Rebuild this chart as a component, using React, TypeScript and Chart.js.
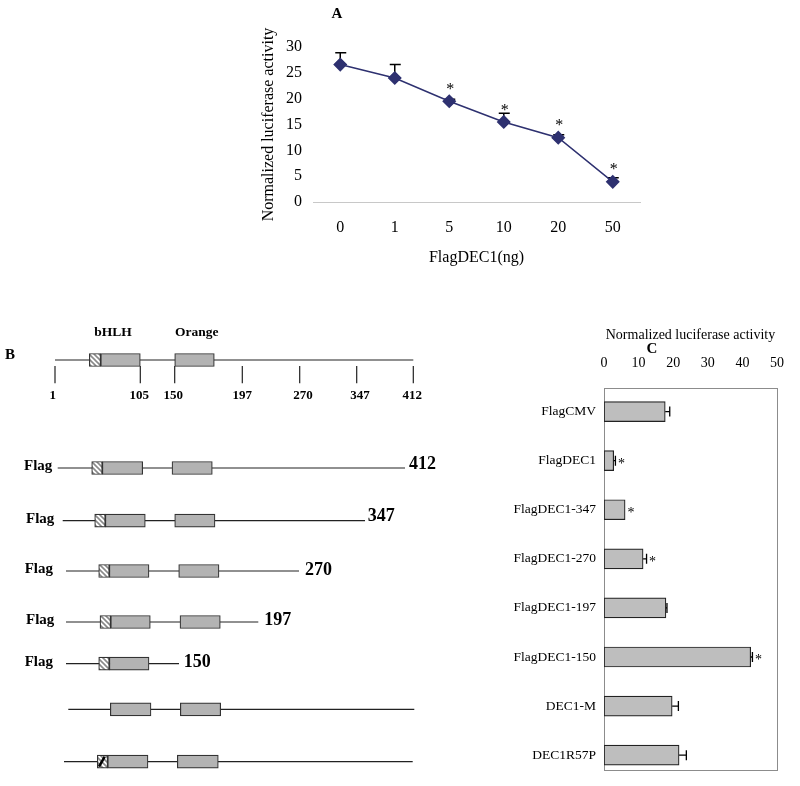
import React, { useEffect, useRef } from "react";
import { Chart, registerables } from "chart.js";
Chart.register(...registerables);

const SERIF = '"Liberation Serif", "Times New Roman", Times, serif';
const NAVY = "#2E3170";

// ---------- Panel A data ----------
const doseLabels = ["0", "1", "5", "10", "20", "50"];
const activityA = [26.6, 24.0, 19.5, 15.5, 12.45, 3.9];
const errorA = [2.3, 2.6, 0.4, 1.7, 0.55, 0.8];
const starLevelA: (number | null)[] = [null, null, 22.4, 18.4, 15.5, 7.0];

// ---------- Panel C data ----------
const constructsC = [
  "FlagCMV",
  "FlagDEC1",
  "FlagDEC1-347",
  "FlagDEC1-270",
  "FlagDEC1-197",
  "FlagDEC1-150",
  "DEC1-M",
  "DEC1R57P",
];
const activityC = [17.7, 2.8, 6.1, 11.3, 17.9, 42.4, 19.7, 21.7];
const errorC = [1.3, 0.5, 0, 1.0, 0.3, 0.5, 1.8, 2.1];
const starC = [false, true, true, true, false, true, false, false];

// ---------- Panel B schematic (schematic units) ----------
const rowLevel = [360, 468, 520.7, 571, 622, 663.7, 709.3, 761.7];
const lineStart = [55, 57.7, 62.7, 66, 66, 66, 68.3, 64];
const lineEnd = [413.3, 405, 365, 299, 258.3, 179, 414.3, 412.7];
const hatchStart: (number | null)[] = [89.3, 91.7, 94.7, 98.7, 100, 98.7, null, 97.3];
const bhlhStart = [100.7, 102.3, 105.3, 109.3, 110.7, 109.3, 110.3, 107.7];
const bhlhEnd = [140.3, 142.7, 145.3, 149, 150.3, 149, 151, 148];
const orangeStart: (number | null)[] = [174.7, 172, 174.7, 178.7, 180, null, 180.3, 177.3];
const orangeEnd: (number | null)[] = [214.3, 212.3, 215, 219, 220.3, null, 220.7, 218.3];
const mutatedRow = 7;
const flagX: (number | null)[] = [null, 24, 26, 24.7, 26, 24.7, null, null];
const endLabels = ["", "412", "347", "270", "197", "150", "", ""];
const endLabelX: (number | null)[] = [null, 409, 367.7, 305, 264.3, 183.7, null, null];
const endLabelY: (number | null)[] = [null, 464, 516.7, 570.3, 620.3, 662.2, null, null];
const rulerLabels = ["1", "105", "150", "197", "270", "347", "412"];
const rulerTickPos = [55, 140.3, 174.7, 242.3, 299.7, 356.7, 413.3];
const rulerLabelPos = [52.7, 139.3, 173.3, 242.3, 303, 360, 412.3];
const rulerTickTop = 366;
const rulerTickBottom = 383.3;
const rulerLabelLevel = 396;
const domainNames = ["bHLH", "Orange"];
const domainNameX = [113, 196.7];
const domainNameLevel = 333;

function PanelA() {
  const ref = useRef<HTMLCanvasElement | null>(null);
  useEffect(() => {
    const canvas = ref.current!;
    const overlay = {
      id: "panelAOverlay",
      beforeDatasetsDraw(chart: any) {
        const { ctx, scales } = chart;
        const x = scales.x;
        const y = scales.y;
        ctx.save();
        ctx.strokeStyle = "#000";
        ctx.lineWidth = 1.5;
        activityA.forEach((v, i) => {
          const px = x.getPixelForValue(i);
          const y0 = y.getPixelForValue(v);
          const y1 = y.getPixelForValue(v + errorA[i]);
          ctx.beginPath();
          ctx.moveTo(px, y0);
          ctx.lineTo(px, y1);
          ctx.moveTo(px - 5, y1);
          ctx.lineTo(px + 6, y1);
          ctx.stroke();
        });
        ctx.restore();
      },
      afterDatasetsDraw(chart: any) {
        const { ctx, scales } = chart;
        const x = scales.x;
        const y = scales.y;
        ctx.save();
        ctx.fillStyle = "#000";
        ctx.textAlign = "center";
        ctx.textBaseline = "middle";
        ctx.font = `16px ${SERIF}`;
        starLevelA.forEach((s, i) => {
          if (s == null) return;
          ctx.fillText("*", x.getPixelForValue(i) + 1, y.getPixelForValue(s) + 4);
        });
        ctx.font = `bold 15px ${SERIF}`;
        ctx.fillText("A", 337, 14);
        ctx.restore();
      },
    };
    const chart = new Chart(canvas, {
      type: "line",
      data: {
        labels: doseLabels,
        datasets: [
          {
            data: activityA,
            borderColor: NAVY,
            backgroundColor: NAVY,
            borderWidth: 1.5,
            pointStyle: "rectRot",
            pointRadius: 6,
            pointBackgroundColor: NAVY,
            pointBorderColor: NAVY,
            tension: 0,
          },
        ],
      },
      options: {
        responsive: false,
        animation: false,
        events: [],
        layout: { padding: { left: 255, right: 60, top: 47, bottom: 8 } },
        plugins: { legend: { display: false }, tooltip: { enabled: false } },
        scales: {
          x: {
            type: "category",
            offset: true,
            grid: { display: false, drawTicks: false },
            border: { display: true, color: "#c8c8c8", width: 1 },
            ticks: { color: "#000", font: { family: SERIF, size: 16 }, padding: 16 },
            title: {
              display: true,
              text: "FlagDEC1(ng)",
              color: "#000",
              font: { family: SERIF, size: 16 },
              padding: { top: 0, bottom: 5 },
            },
            afterFit: (s: any) => {
              s.height = 70;
            },
          },
          y: {
            type: "linear",
            min: 0,
            max: 30,
            grid: { display: false, drawTicks: false },
            border: { display: false },
            ticks: { stepSize: 5, color: "#000", font: { family: SERIF, size: 16 }, padding: 11 },
            title: {
              display: true,
              text: "Normalized luciferase activity",
              color: "#000",
              font: { family: SERIF, size: 16 },
              padding: { top: 4, bottom: 0 },
            },
            afterFit: (s: any) => {
              s.width = 58;
            },
          },
        },
      } as any,
      plugins: [overlay],
    });
    return () => chart.destroy();
  }, []);
  return (
    <canvas
      ref={ref}
      width={700}
      height={280}
      style={{ position: "absolute", left: 0, top: 0, width: 700, height: 280 }}
    />
  );
}

function makeHatch(): CanvasPattern | string {
  const c = document.createElement("canvas");
  c.width = 5;
  c.height = 5;
  const g = c.getContext("2d");
  if (!g) return "#ddd";
  g.fillStyle = "#ffffff";
  g.fillRect(0, 0, 5, 5);
  g.strokeStyle = "#8a8a8a";
  g.lineWidth = 1.6;
  g.beginPath();
  g.moveTo(-1, -1);
  g.lineTo(6, 6);
  g.moveTo(-1, 4);
  g.lineTo(1, 6);
  g.moveTo(4, -1);
  g.lineTo(6, 1);
  g.stroke();
  return g.createPattern(c, "repeat") || "#ddd";
}

function PanelB() {
  const ref = useRef<HTMLCanvasElement | null>(null);
  useEffect(() => {
    const canvas = ref.current!;
    const hatch = makeHatch();
    const datasets: any[] = [];
    rowLevel.forEach((lv, i) => {
      datasets.push({
        type: "line",
        data: [
          { x: lineStart[i], y: lv },
          { x: lineEnd[i], y: lv },
        ],
        borderColor: "#222",
        borderWidth: 1.2,
        pointRadius: 0,
        order: 3,
      });
    });
    rulerTickPos.forEach((p) => {
      datasets.push({
        type: "line",
        data: [
          { x: p, y: rulerTickTop },
          { x: p, y: rulerTickBottom },
        ],
        borderColor: "#222",
        borderWidth: 1.2,
        pointRadius: 0,
        order: 3,
      });
    });
    const barCommon = {
      type: "bar",
      indexAxis: "y",
      grouped: false,
      barThickness: 13,
      borderColor: "#333",
      borderWidth: 1.2,
      borderSkipped: false,
      order: 1,
    };
    datasets.push({
      ...barCommon,
      backgroundColor: hatch,
      data: rowLevel
        .map((lv, i) => (hatchStart[i] == null ? null : { x: [hatchStart[i], bhlhStart[i]], y: lv }))
        .filter((d) => d != null),
    });
    datasets.push({
      ...barCommon,
      backgroundColor: "#B3B3B3",
      data: rowLevel.map((lv, i) => ({ x: [bhlhStart[i], bhlhEnd[i]], y: lv })),
    });
    datasets.push({
      ...barCommon,
      backgroundColor: "#B3B3B3",
      data: rowLevel
        .map((lv, i) => (orangeStart[i] == null ? null : { x: [orangeStart[i], orangeEnd[i]], y: lv }))
        .filter((d) => d != null),
    });
    // point mutation mark (R57P)
    const hs = hatchStart[mutatedRow] as number;
    datasets.push({
      type: "line",
      data: [
        { x: hs + 1.7, y: rowLevel[mutatedRow] + 5 },
        { x: bhlhStart[mutatedRow] - 3, y: rowLevel[mutatedRow] - 5 },
      ],
      borderColor: "#000",
      borderWidth: 2.6,
      pointRadius: 0,
      order: 0,
    });

    const overlay = {
      id: "panelBText",
      afterDatasetsDraw(chart: any) {
        const { ctx, scales } = chart;
        const x = scales.x;
        const y = scales.y;
        ctx.save();
        ctx.fillStyle = "#000";
        ctx.textBaseline = "middle";
        ctx.textAlign = "center";
        ctx.font = `bold 15px ${SERIF}`;
        ctx.fillText("B", x.getPixelForValue(10), y.getPixelForValue(355));
        ctx.font = `bold 13.5px ${SERIF}`;
        domainNames.forEach((n, i) => {
          ctx.fillText(n, x.getPixelForValue(domainNameX[i]), y.getPixelForValue(domainNameLevel));
        });
        ctx.font = `bold 13px ${SERIF}`;
        rulerLabels.forEach((t, i) => {
          ctx.fillText(t, x.getPixelForValue(rulerLabelPos[i]), y.getPixelForValue(rulerLabelLevel));
        });
        ctx.textAlign = "left";
        ctx.font = `bold 15px ${SERIF}`;
        flagX.forEach((fx, i) => {
          if (fx == null) return;
          ctx.fillText("Flag", x.getPixelForValue(fx), y.getPixelForValue(rowLevel[i] - 2));
        });
        ctx.font = `bold 18px ${SERIF}`;
        endLabels.forEach((t, i) => {
          const ex = endLabelX[i];
          const ey = endLabelY[i];
          if (!t || ex == null || ey == null) return;
          ctx.fillText(t, x.getPixelForValue(ex), y.getPixelForValue(ey));
        });
        ctx.restore();
      },
    };

    const chart = new Chart(canvas, {
      type: "bar",
      data: { datasets },
      options: {
        indexAxis: "y",
        responsive: false,
        animation: false,
        events: [],
        layout: { padding: 0 },
        plugins: { legend: { display: false }, tooltip: { enabled: false } },
        scales: {
          x: { type: "linear", min: 0, max: 440, display: false, offset: false },
          y: { type: "linear", min: 300, max: 786, reverse: true, display: false, offset: false },
        },
      } as any,
      plugins: [overlay],
    });
    return () => chart.destroy();
  }, []);
  return (
    <canvas
      ref={ref}
      width={440}
      height={486}
      style={{ position: "absolute", left: 0, top: 300, width: 440, height: 486 }}
    />
  );
}

function PanelC() {
  const ref = useRef<HTMLCanvasElement | null>(null);
  useEffect(() => {
    const canvas = ref.current!;
    const overlay = {
      id: "panelCOverlay",
      beforeDatasetsDraw(chart: any) {
        const { ctx, chartArea } = chart;
        ctx.save();
        ctx.strokeStyle = "#8c8c8c";
        ctx.lineWidth = 1;
        ctx.strokeRect(
          Math.round(chartArea.left) + 0.5,
          Math.round(chartArea.top) + 0.5,
          Math.round(chartArea.right - chartArea.left),
          Math.round(chartArea.bottom - chartArea.top)
        );
        ctx.restore();
      },
      afterDatasetsDraw(chart: any) {
        const { ctx, scales } = chart;
        const x = scales.x;
        const y = scales.y;
        ctx.save();
        ctx.strokeStyle = "#000";
        ctx.lineWidth = 1.3;
        activityC.forEach((v, i) => {
          const yc = y.getPixelForValue(i);
          const x0 = x.getPixelForValue(v);
          const x1 = x.getPixelForValue(v + errorC[i]);
          if (errorC[i] > 0) {
            ctx.beginPath();
            ctx.moveTo(x0, yc);
            ctx.lineTo(x1, yc);
            ctx.moveTo(x1, yc - 5);
            ctx.lineTo(x1, yc + 5);
            ctx.stroke();
          }
          if (starC[i]) {
            ctx.fillStyle = "#000";
            ctx.font = `14px ${SERIF}`;
            ctx.textAlign = "center";
            ctx.textBaseline = "middle";
            ctx.fillText("*", x1 + 6, yc + 3.5);
          }
        });
        ctx.fillStyle = "#000";
        ctx.font = `bold 15px ${SERIF}`;
        ctx.textAlign = "center";
        ctx.textBaseline = "middle";
        ctx.fillText("C", 152, 29);
        ctx.restore();
      },
    };
    const chart = new Chart(canvas, {
      type: "bar",
      data: {
        datasets: [
          {
            data: activityC.map((v, i) => ({ x: v, y: i })),
            backgroundColor: "#BEBEBE",
            borderColor: "#222",
            borderWidth: 1.2,
            borderSkipped: false,
            barThickness: 20,
          },
        ],
      },
      options: {
        indexAxis: "y",
        responsive: false,
        animation: false,
        events: [],
        layout: { padding: { left: 0, right: 7, top: 0, bottom: 11 } },
        plugins: { legend: { display: false }, tooltip: { enabled: false } },
        scales: {
          x: {
            type: "linear",
            position: "top",
            min: 0,
            max: 50,
            offset: false,
            grid: { display: false, drawTicks: false },
            border: { display: false },
            ticks: { stepSize: 10, color: "#000", font: { family: SERIF, size: 14 }, padding: 16 },
            title: {
              display: true,
              text: "Normalized luciferase activity",
              color: "#000",
              font: { family: SERIF, size: 14 },
              padding: { top: 7, bottom: 0 },
            },
            afterFit: (s: any) => {
              s.height = 68;
            },
          },
          y: {
            type: "linear",
            reverse: true,
            min: -0.48,
            max: 7.3,
            offset: false,
            grid: { display: false, drawTicks: false },
            border: { display: false },
            afterBuildTicks: (s: any) => {
              s.ticks = constructsC.map((_, i) => ({ value: i }));
            },
            ticks: {
              autoSkip: false,
              color: "#000",
              font: { family: SERIF, size: 13.5 },
              padding: 8,
              callback: (v: any) => constructsC[v as number] ?? "",
            },
            afterFit: (s: any) => {
              s.width = 104;
            },
          },
        },
      } as any,
      plugins: [overlay],
    });
    return () => chart.destroy();
  }, []);
  return (
    <canvas
      ref={ref}
      width={300}
      height={466}
      style={{ position: "absolute", left: 500, top: 320, width: 300, height: 466 }}
    />
  );
}

export default function App() {
  return (
    <div
      style={{
        position: "absolute",
        left: 0,
        top: 0,
        width: 800,
        height: 786,
        background: "#fff",
        overflow: "hidden",
      }}
    >
      <PanelA />
      <PanelB />
      <PanelC />
    </div>
  );
}
